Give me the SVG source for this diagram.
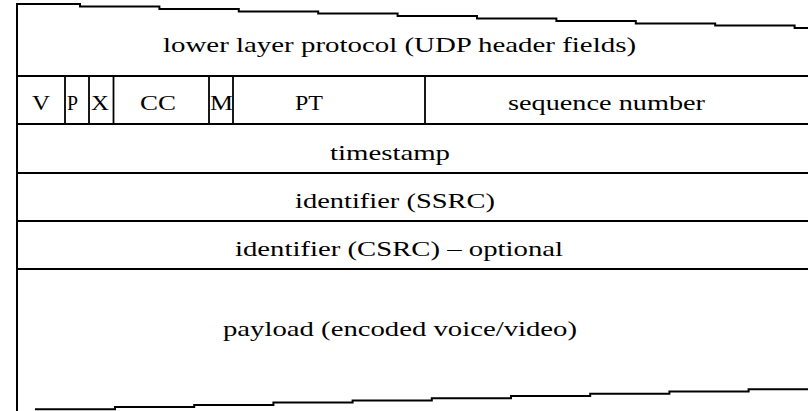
<svg xmlns="http://www.w3.org/2000/svg" width="808" height="411" viewBox="0 0 808 411">
<style>
.ln{stroke:#000;stroke-width:2;fill:none}
.vl{stroke:#000;stroke-width:1.8;fill:none}
.t{font-family:'Liberation Serif','DejaVu Serif',serif;font-size:22px;fill:#000}
</style>
<rect x="0" y="0" width="808" height="411" fill="#fff"/>
<g id="grid">
<path class="ln" d="M17,4 H80 V6.5 H159.4 V9 H238.8 V11.5 H318.2 V13.5 H397.6 V16 H477 V18.5 H556.4 V21 H635.8 V23.5 H715.2 V25.5 H794.6 V28 H808"/>
<line class="ln" x1="17" y1="3" x2="17" y2="411"/>
<line class="ln" x1="17" y1="76" x2="808" y2="76"/>
<line class="ln" x1="17" y1="124" x2="808" y2="124"/>
<line class="ln" x1="17" y1="173" x2="808" y2="173"/>
<line class="ln" x1="17" y1="221" x2="808" y2="221"/>
<line class="ln" x1="17" y1="269" x2="808" y2="269"/>
<line class="vl" x1="65" y1="76" x2="65" y2="124"/>
<line class="vl" x1="89" y1="76" x2="89" y2="124"/>
<line class="vl" x1="113.5" y1="76" x2="113.5" y2="124"/>
<line class="vl" x1="209" y1="76" x2="209" y2="124"/>
<line class="vl" x1="233" y1="76" x2="233" y2="124"/>
<line class="vl" x1="425" y1="76" x2="425" y2="124"/>
<path class="ln" d="M35,409.3 H115 V407.1 H194.2 V404.9 H273.4 V402.6 H352.6 V400.4 H431.8 V398.2 H511 V396 H590.2 V393.8 H669.4 V391.5 H748.6 V389.3 H808"/>
</g>
<g id="udp"><text class="t" x="163" y="52" textLength="473" lengthAdjust="spacingAndGlyphs">lower layer protocol (UDP header fields)</text></g>
<g id="v"><text class="t" x="32" y="110" textLength="18" lengthAdjust="spacingAndGlyphs">V</text></g>
<g id="p"><text class="t" x="67" y="110" textLength="11" lengthAdjust="spacingAndGlyphs">P</text></g>
<g id="x"><text class="t" x="91" y="110" textLength="18" lengthAdjust="spacingAndGlyphs">X</text></g>
<g id="cc"><text class="t" x="140" y="110" textLength="36" lengthAdjust="spacingAndGlyphs">CC</text></g>
<g id="m"><text class="t" x="210" y="110" textLength="23" lengthAdjust="spacingAndGlyphs">M</text></g>
<g id="pt"><text class="t" x="295" y="110" textLength="28" lengthAdjust="spacingAndGlyphs">PT</text></g>
<g id="seq"><text class="t" x="508" y="110" textLength="197" lengthAdjust="spacingAndGlyphs">sequence number</text></g>
<g id="timestamp"><text class="t" x="330" y="160" textLength="120" lengthAdjust="spacingAndGlyphs">timestamp</text></g>
<g id="ssrc"><text class="t" x="295" y="208" textLength="200" lengthAdjust="spacingAndGlyphs">identifier (SSRC)</text></g>
<g id="csrc"><text class="t" x="235" y="256" textLength="328" lengthAdjust="spacingAndGlyphs">identifier (CSRC) – optional</text></g>
<g id="payload"><text class="t" x="223" y="336" textLength="354" lengthAdjust="spacingAndGlyphs">payload (encoded voice/video)</text></g>
</svg>
